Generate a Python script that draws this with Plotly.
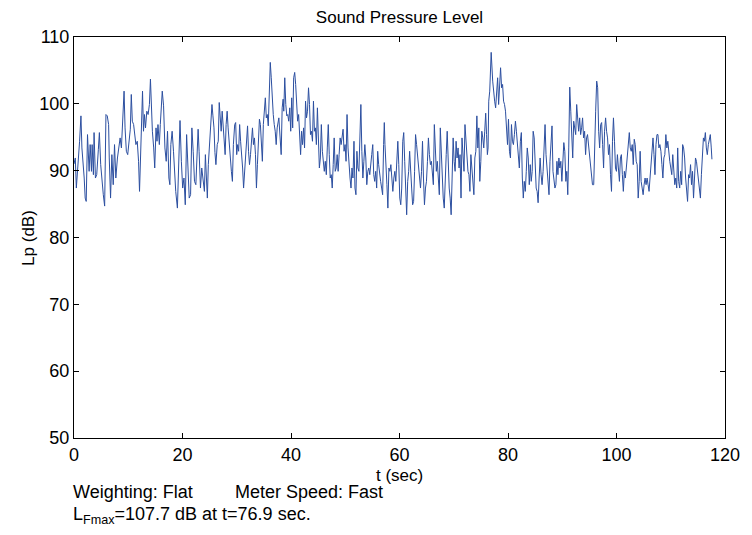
import plotly.graph_objects as go

# ---- data (time in s, level in dB) ----
t_seg1 = [0.0, 0.24, 0.43, 0.67, 1.03, 1.28, 1.46, 1.88, 2.06, 2.25, 2.49, 2.79, 2.98, 3.22, 3.34, 3.58, 3.70, 3.95, 4.19, 4.49,
          4.68, 4.92, 5.22, 5.40, 5.65, 5.89, 6.13, 6.38, 6.50, 6.74, 6.98, 7.23, 7.47, 7.71, 8.01, 8.26, 8.50, 8.74, 9.05, 9.23,
          9.41, 9.65, 9.90, 10.14, 10.38, 10.56, 10.75, 10.99, 11.17, 11.41, 11.66, 11.90, 12.08, 12.26, 12.45, 12.63, 12.81, 12.99,
          13.18, 13.42, 13.66, 13.90, 14.09, 14.27, 14.45, 14.69, 14.88, 15.12, 15.30, 15.48, 15.73, 15.91, 16.09, 16.27, 16.51,
          16.76, 17.00, 17.24, 17.49, 17.67, 17.85, 18.09, 18.34]
lp_seg1 = [91.0, 91.9, 87.4, 89.9, 94.4, 98.2, 93.4, 88.9, 85.9, 85.4, 95.4, 89.9, 93.9, 89.9, 93.9, 89.4, 95.7, 88.9, 89.4, 93.2,
           95.7, 90.9, 87.4, 86.4, 84.7, 98.4, 98.2, 96.9, 91.9, 85.9, 92.4, 87.9, 93.9, 88.9, 91.9, 93.9, 94.9, 93.4, 99.2, 101.9,
           96.4, 92.9, 92.4, 93.9, 96.2, 101.4, 97.4, 96.9, 95.4, 93.9, 94.4, 91.4, 86.9, 91.4, 96.9, 101.9, 95.9, 98.4,
           96.4, 98.9, 98.4, 99.9, 103.7, 98.9, 95.9, 93.4, 90.4, 96.4, 94.4, 96.9, 93.9, 96.9, 98.9, 101.9, 99.7,
           93.4, 91.4, 95.9, 88.9, 87.9, 93.9, 95.9, 92.9]

t_seg2 = [18.75, 19.06, 19.18, 19.42, 19.54, 19.79, 20.03, 20.27, 20.51, 20.76, 21.00, 21.24, 21.49, 21.73, 21.97, 22.21, 22.46,
          22.70, 22.88, 23.06, 23.31, 23.55, 23.79, 24.04, 24.22, 24.40, 24.58, 24.76, 25.01, 25.25, 25.43, 25.61, 25.80, 25.98,
          26.16, 26.40, 26.59, 26.77, 26.95, 27.13, 27.31, 27.50, 27.68, 27.86, 28.04, 28.23, 28.41, 28.59, 28.77, 29.01, 29.20,
          29.38, 29.62, 29.80, 29.99, 30.17, 30.35, 30.53, 30.71, 30.90, 31.08, 31.26, 31.44, 31.63, 31.81, 31.99, 32.17, 32.35,
          32.54, 32.72, 32.90, 33.08, 33.26, 33.45, 33.63, 33.81, 33.99, 34.18, 34.36, 34.54, 34.72, 34.90, 35.09, 35.27, 35.45,
          35.63, 35.81, 36.00, 36.18, 36.36, 36.54, 36.73, 36.91, 37.09, 37.27, 37.45]
lp_seg2 = [86.9, 84.4, 88.9, 96.9, 97.5, 91.4, 87.4, 88.9, 84.9, 95.4, 90.9, 85.9, 86.4, 96.4, 92.9, 88.4, 87.9,
           94.9, 96.2, 92.9, 87.4, 90.4, 88.4, 86.9, 92.4, 89.9, 85.9, 90.9, 94.4, 98.4, 99.9, 98.2, 96.4, 92.7,
           90.9, 93.9, 94.4, 100.2, 97.4, 95.9, 98.9, 96.9, 95.4, 92.4, 96.9, 98.9, 96.4, 93.9, 91.9, 89.9, 88.4,
           93.9, 96.9, 97.2, 92.4, 93.9, 92.9, 96.9, 94.4, 92.9, 90.4, 87.4, 89.9, 90.9, 93.9, 96.7, 92.9, 90.9,
           92.4, 94.4, 96.4, 93.9, 94.9, 92.4, 87.4, 90.9, 94.9, 97.7, 96.9, 94.4, 91.4, 96.9, 98.9, 100.9, 97.9,
           98.4, 96.7, 101.4, 106.2, 103.9, 99.9, 98.4, 96.9, 95.9, 93.9, 96.4]

t_seg3 = [37.76, 37.94, 38.07, 38.19, 38.37, 38.55, 38.67, 38.85, 39.04, 39.22, 39.40, 39.58, 39.77, 39.95, 40.13, 40.31, 40.49,
          40.68, 40.86, 41.04, 41.22, 41.41, 41.59, 41.77, 41.95, 42.13, 42.32, 42.50, 42.68, 42.86, 43.04, 43.23, 43.41, 43.59,
          43.77, 43.96, 44.14, 44.32, 44.50, 44.68, 44.87, 45.05, 45.23, 45.41, 45.59, 45.78, 45.96, 46.14, 46.32, 46.51, 46.69,
          46.87, 47.05, 47.23, 47.42, 47.60, 47.78, 47.96, 48.15, 48.33, 48.51, 48.69, 48.87, 49.06, 49.24, 49.42, 49.60, 49.78,
          49.97, 50.15, 50.33, 50.51, 50.70, 50.88, 51.06, 51.24, 51.42, 51.61, 51.79, 51.97, 52.15, 52.33, 52.52, 52.70, 52.88,
          53.06, 53.25, 53.43, 53.61, 53.79, 53.97, 54.16, 54.34, 54.52, 54.70, 54.88, 55.07, 55.25, 55.43, 55.61, 55.79, 55.98,
          56.16, 56.34, 56.52]
lp_seg3 = [97.9, 95.4, 92.9, 92.4, 99.4, 100.7, 98.9, 103.9, 99.9, 98.2, 98.4, 97.4, 99.4, 95.9, 100.9, 96.4, 103.9,
           104.7, 102.9, 99.9, 97.4, 98.4, 94.9, 92.4, 95.9, 93.9, 96.4, 93.4, 100.4, 97.9, 98.9, 102.4, 99.9, 95.4,
           95.9, 94.4, 100.4, 95.9, 96.4, 93.9, 99.4, 95.9, 90.4, 91.9, 96.9, 92.9, 91.4, 89.9, 91.4, 89.4, 93.4,
           96.9, 92.4, 88.9, 89.4, 87.4, 90.9, 94.9, 89.9, 90.4, 92.4, 89.9, 92.4, 94.9, 93.9, 95.4, 96.2, 92.9,
           93.9, 91.4, 98.4, 93.4, 90.4, 88.9, 87.4, 90.4, 88.9, 94.4, 87.4, 86.4, 92.9, 90.4, 89.9, 95.9, 99.9,
           92.9, 88.9, 91.4, 93.9, 91.9, 87.9, 89.9, 90.4, 89.4, 91.4, 92.4, 93.9, 89.4, 88.4, 89.9, 87.4, 92.9,
           90.9, 88.9, 88.4]

t_seg4 = [56.71, 56.89, 57.07, 57.20, 57.32, 57.50, 57.68, 57.86, 58.05, 58.23, 58.41, 58.59, 58.77, 58.96, 59.14, 59.32, 59.50,
          59.69, 59.87, 60.05, 60.23, 60.41, 60.60, 60.78, 60.96, 61.14, 61.32, 61.51, 61.69, 61.87, 62.05, 62.24, 62.42, 62.60,
          62.78, 62.96, 63.15, 63.33, 63.51, 63.69, 63.87, 64.06, 64.24, 64.42, 64.60, 64.79, 64.97, 65.15, 65.33, 65.51, 65.70,
          65.88, 66.06, 66.24, 66.42, 66.61, 66.79, 66.97, 67.15, 67.34, 67.52, 67.70, 67.88, 68.06, 68.25, 68.43, 68.61, 68.79,
          68.97, 69.16, 69.34, 69.52, 69.70, 69.89, 70.07, 70.25, 70.43, 70.61, 70.80, 70.98, 71.16, 71.34, 71.52, 71.71, 71.89,
          72.07, 72.25, 72.44, 72.62, 72.80, 72.98, 73.16, 73.35, 73.53, 73.71, 73.89, 74.07, 74.26, 74.44, 74.62, 74.80, 74.99,
          75.17, 75.35, 75.53, 75.71]
lp_seg4 = [87.4, 86.4, 93.9, 97.2, 93.9, 91.4, 87.9, 84.4, 90.4, 89.9, 90.9, 88.9, 86.9, 88.9, 89.9, 88.4, 92.4,
           94.4, 90.9, 85.9, 84.9, 87.4, 94.4, 95.7, 91.4, 86.9, 83.4, 88.4, 89.9, 92.9, 89.4, 87.4, 84.9, 85.4,
           89.9, 95.4, 93.9, 91.9, 90.4, 88.9, 87.4, 89.9, 94.4, 88.9, 84.9, 87.4, 88.4, 91.4, 94.9, 92.4, 90.9,
           91.4, 89.9, 87.9, 96.9, 92.4, 89.9, 91.4, 87.9, 86.4, 96.4, 92.4, 88.9, 85.9, 84.4, 89.9, 92.4, 95.9,
           89.9, 87.4, 85.9, 83.4, 88.9, 94.9, 91.4, 89.9, 94.4, 91.9, 93.4, 90.4, 92.4, 85.9, 94.9, 91.4, 89.9,
           96.9, 93.9, 91.9, 89.9, 89.4, 86.9, 92.4, 89.9, 87.9, 86.4, 91.9, 92.9, 98.2, 93.4, 96.4, 88.4, 91.4,
           95.9, 94.9, 93.4, 95.9]

t_seg5 = [75.89, 76.05, 76.20, 76.33, 76.45, 76.63, 76.81, 76.90, 77.18, 77.36, 77.54, 77.72, 77.90, 78.09, 78.27, 78.45, 78.63,
          78.82, 79.00, 79.18, 79.36, 79.54, 79.73, 79.91, 80.09, 80.27, 80.45, 80.64, 80.82, 81.00, 81.18, 81.37, 81.55, 81.73,
          81.91, 82.09, 82.28, 82.46, 82.64, 82.82, 83.00, 83.19, 83.37, 83.55, 83.73, 83.92, 84.10, 84.28, 84.46, 84.64, 84.83,
          85.01, 85.19, 85.37, 85.55, 85.74, 85.92, 86.10, 86.28, 86.47, 86.65, 86.83, 87.01, 87.19, 87.38, 87.56, 87.74, 87.92,
          88.11, 88.29, 88.47, 88.65, 88.83, 89.02, 89.20, 89.38, 89.56, 89.74, 89.93, 90.11, 90.29, 90.47, 90.66, 90.84, 91.02,
          91.20, 91.38, 91.57, 91.75, 91.93, 92.11, 92.29, 92.48, 92.66, 92.84, 93.02, 93.21, 93.39, 93.57, 93.75, 93.93, 94.12,
          94.30, 94.48, 94.66, 94.84, 95.03, 95.21, 95.39, 95.57]
lp_seg5 = [98.6, 95.4, 92.4, 93.4, 100.4, 101.9, 106.6, 107.7, 103.4, 101.4, 100.4, 99.4, 101.7, 103.9, 99.9, 103.4, 105.4,
           102.4, 102.9, 100.4, 99.9, 98.9, 94.9, 93.9, 97.7, 92.9, 91.9, 96.9, 94.4, 93.9, 95.4, 97.4, 95.9, 93.9,
           93.4, 90.4, 94.4, 95.7, 88.9, 85.9, 88.4, 86.9, 89.9, 93.4, 91.9, 87.9, 90.9, 88.4, 89.9, 95.9, 94.9,
           89.9, 87.4, 86.9, 85.2, 88.9, 91.9, 89.4, 87.9, 89.9, 92.9, 96.9, 92.4, 89.9, 88.4, 86.4, 91.4, 95.4,
           96.7, 89.9, 88.9, 87.4, 87.9, 91.4, 89.4, 91.9, 90.4, 91.4, 88.4, 91.9, 94.2, 92.9, 88.4, 89.9, 86.4,
           93.4, 102.5, 98.9, 95.9, 91.9, 97.4, 95.9, 95.4, 99.9, 97.4, 95.9, 97.9, 95.4, 96.4, 97.9, 94.9, 95.9,
           92.4, 94.9, 95.4, 93.9, 93.4, 91.4, 89.9, 87.9]

t_seg6 = [95.80, 95.98, 96.16, 96.35, 96.53, 96.71, 96.89, 97.08, 97.26, 97.44, 97.62, 97.80, 97.99, 98.17, 98.35, 98.53, 98.71,
          98.90, 99.08, 99.26, 99.44, 99.63, 99.81, 99.99, 100.17, 100.35, 100.54, 100.72, 100.90, 101.08, 101.26, 101.45,
          101.63, 101.81, 101.99, 102.18, 102.36, 102.54, 102.72, 102.90, 103.09, 103.27, 103.45, 103.63, 103.81, 104.00,
          104.18, 104.36, 104.54, 104.73, 104.91, 105.09, 105.27, 105.45, 105.64, 105.82, 106.00, 106.18, 106.36, 106.55,
          106.73, 106.91, 107.09, 107.28, 107.46, 107.64, 107.82, 108.00, 108.19, 108.37, 108.55, 108.73, 108.91, 109.10,
          109.28, 109.46, 109.64, 109.82, 110.01, 110.19, 110.37, 110.55, 110.74, 110.92, 111.10, 111.28, 111.46, 111.65,
          111.83, 112.01, 112.19, 112.37, 112.56, 112.74, 112.92, 113.10, 113.29, 113.47, 113.65, 113.83, 114.01, 114.20,
          114.38, 114.56, 114.74, 114.92, 115.11, 115.29, 115.47, 115.65, 115.83, 116.02, 116.20, 116.38, 116.56, 116.74,
          116.93, 117.11, 117.29, 117.47, 117.59]
lp_seg6 = [87.9, 96.4, 98.9, 103.4, 102.4, 95.9, 93.4, 96.9, 97.2, 93.9, 90.4, 95.9, 97.9, 95.9, 94.9, 92.4, 93.9,
           89.4, 86.9, 94.4, 97.9, 94.4, 90.4, 89.9, 92.4, 90.4, 88.4, 91.9, 92.4, 89.4, 86.9, 89.9,
           88.9, 90.4, 91.9, 94.4, 95.7, 93.4, 92.9, 93.9, 90.9, 94.7, 93.9, 91.4, 90.9, 85.9,
           88.4, 92.9, 88.4, 87.4, 86.4, 87.9, 88.9, 87.9, 88.9, 87.9, 86.9, 88.9, 91.4, 93.9,
           94.9, 92.4, 89.4, 93.9, 95.4, 95.4, 93.4, 93.9, 92.9, 90.9, 88.9, 91.9, 92.4, 95.4,
           93.4, 94.4, 92.4, 91.4, 90.4, 89.4, 92.4, 89.4, 87.9, 88.9, 87.4, 93.4, 88.4, 87.4,
           89.9, 87.9, 93.9, 93.4, 91.9, 88.9, 87.4, 85.4, 89.4, 88.9, 90.9, 87.9, 89.9, 85.9,
           88.9, 91.9, 91.4, 89.9, 89.4, 87.9, 85.9, 89.4, 92.9, 94.9, 94.4, 95.7, 93.4, 92.4,
           93.9, 94.9, 95.4, 93.4, 91.7]

x_ticks = [0, 20, 40, 60, 80, 100, 120]
y_ticks = [50, 60, 70, 80, 90, 100, 110]

segments = [(t_seg1, lp_seg1), (t_seg2, lp_seg2), (t_seg3, lp_seg3),
            (t_seg4, lp_seg4), (t_seg5, lp_seg5), (t_seg6, lp_seg6)]
t_all, lp_all = [], []
for i, (ts, ls) in enumerate(segments):
    assert len(ts) == len(ls), f"segment {i+1}: {len(ts)} vs {len(ls)}"
    t_all += ts
    lp_all += ls

FONT = "Liberation Sans, Arial, Helvetica, sans-serif"
FS = 18
W, H = 744, 527  # page body has an 8px margin in the browser

fig = go.Figure(go.Scatter(x=t_all, y=lp_all, mode="lines",
                           line=dict(color="#2c4fa0", width=1), hoverinfo="skip"))

axis_common = dict(showline=True, linecolor="black", linewidth=1, mirror="ticks",
                   ticks="inside", ticklen=5, tickcolor="black", showgrid=False,
                   zeroline=False, tickfont=dict(size=FS, color="black", family=FONT))

fig.update_xaxes(range=[0, 120], tickvals=x_ticks, **axis_common)
fig.update_yaxes(range=[50, 110], tickvals=y_ticks, **axis_common)

fig.update_layout(
    width=W, height=H,
    margin=dict(l=66, r=19, t=29, b=97),
    paper_bgcolor="white", plot_bgcolor="white",
    showlegend=False,
    font=dict(family=FONT, size=FS, color="black"),
    title=dict(text="Sound Pressure Level", x=0.5, xref="paper", xanchor="center",
               y=1 - 9 / H, yref="container", yanchor="middle",
               font=dict(size=FS - 1, family=FONT, color="black")),
    annotations=[
        dict(text="t (sec)", xref="paper", yref="paper", x=0.5, y=0, xanchor="center",
             yanchor="middle", yshift=-37, showarrow=False, font=dict(size=FS - 1)),
        dict(text="Lp (dB)", xref="paper", yref="paper", x=-0.067, y=0.5, xanchor="center",
             yanchor="middle", textangle=-90, xshift=-2, showarrow=False, font=dict(size=FS - 1)),
        dict(text="Weighting: Flat", xref="paper", yref="paper", x=0, y=0, xanchor="left",
             yanchor="middle", yshift=-54, xshift=-3, showarrow=False, font=dict(size=FS)),
        dict(text="Meter Speed: Fast", xref="paper", yref="paper", x=(237 - 74) / 659, y=0,
             xanchor="left", yanchor="middle", yshift=-54, xshift=-2, showarrow=False, font=dict(size=FS)),
        dict(text="L<sub>Fmax</sub>=107.7 dB at t=76.9 sec.", xref="paper", yref="paper", x=0, y=0,
             xanchor="left", yanchor="middle", yshift=-77, xshift=-3, showarrow=False, font=dict(size=FS)),
    ],
)

fig.write_html("out.html")
